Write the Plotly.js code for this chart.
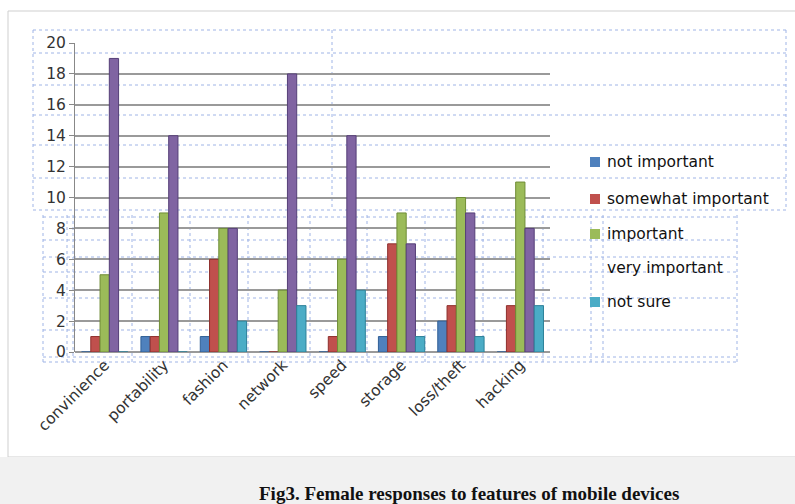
<!DOCTYPE html>
<html>
<head>
<meta charset="utf-8">
<script src="https://cdn.plot.ly/plotly-3.0.1.min.js"></script>
<style>html,body{margin:0;padding:0;background:#fff;}#chart{width:795px;height:504px;}</style>
</head>
<body>
<div id="chart"></div>
<script>
// ---- data ----
const categories = ["convinience","portability","fashion","network","speed","storage","loss/theft","hacking"];
const seriesNames = ["not important","somewhat important","important","very important","not sure"];
const notImportant      = [0, 1, 1, 0, 0, 1, 2, 0];
const somewhatImportant = [1, 1, 6, 0, 1, 7, 3, 3];
const important         = [5, 9, 8, 4, 6, 9, 10, 11];
const veryImportant     = [19, 14, 8, 18, 14, 7, 9, 8];
const notSure           = [0, 0, 2, 3, 4, 1, 1, 3];
const yTicks = [0, 2, 4, 6, 8, 10, 12, 14, 16, 18, 20];
const caption = "Fig3. Female responses to features of mobile devices";

const values = [notImportant, somewhatImportant, important, veryImportant, notSure];
const colors = ["#4f81bd", "#c0504d", "#9bbb59", "#8064a2", "#4bacc6"];
const edge   = ["#2f5f96", "#8e2f2c", "#6f8d36", "#553f78", "#2d8199"];

// ---- layout geometry (pixels) ----
const W = 795, H = 504;
const L = 75, R = 550, T = 43, B = 352;
const px = x => (x - L) / (R - L);
const py = y => (B - y) / (B - T);

const traces = values.map((v, i) => ({
  type: "bar",
  name: seriesNames[i],
  x: categories,
  y: v,
  marker: {color: colors[i], line: {color: edge[i], width: 1}},
  showlegend: false,
  hoverinfo: "x+y+name"
}));

const shapes = [];
const annotations = [];
const blue = "#9fb4e6";
function hline(y, x0, x1) {
  shapes.push({type: "line", xref: "paper", yref: "paper", x0: px(x0), x1: px(x1), y0: py(y), y1: py(y),
    line: {color: blue, width: 1, dash: "dot"}, layer: "below"});
}
function vline(x, y0, y1) {
  shapes.push({type: "line", xref: "paper", yref: "paper", x0: px(x), x1: px(x), y0: py(y0), y1: py(y1),
    line: {color: blue, width: 1, dash: "dot"}, layer: "below"});
}
function rect(x0, y0, x1, y1, fill, lineColor, layer) {
  shapes.push({type: "rect", xref: "paper", yref: "paper", x0: px(x0), x1: px(x1), y0: py(y0), y1: py(y1),
    fillcolor: fill, line: {color: lineColor, width: lineColor ? 1 : 0}, layer: layer || "below"});
}

// outer frame and bottom band
rect(8, 11, 800, 457, "rgba(0,0,0,0)", "#cfcfcf");
rect(-5, 457, 800, 510, "#f1f1f1", null);

// dotted selection boxes (upper)
[30, 53, 85, 115, 145, 178, 210].forEach(y => hline(y, 33, 786));
vline(33, 30, 210); vline(786, 30, 210); vline(332, 30, 210);
// lower box
[217, 240, 257, 272, 298, 330, 357, 362].forEach(y => hline(y, 43, 737));
[43, 67, 73, 132, 190, 248, 310, 367, 425, 483, 543, 591, 603, 737].forEach(x => vline(x, 215, 362));

// legend (drawn manually: no swatch shown for "very important")
const legendY = [162, 199, 234, 268, 302];
const showSwatch = [true, true, true, false, true];
seriesNames.forEach((n, i) => {
  if (showSwatch[i]) rect(590, legendY[i] - 5, 600, legendY[i] + 5, colors[i], null, "above");
  annotations.push({xref: "paper", yref: "paper", x: px(605), y: py(legendY[i]), xanchor: "left", yanchor: "middle",
    text: n, showarrow: false, font: {family: "DejaVu Sans", size: 15.5, color: "#111"}});
});

annotations.push({xref: "paper", yref: "paper", x: px(469), y: py(493), xanchor: "center", yanchor: "middle",
  text: "<b>" + caption + "</b>", showarrow: false,
  font: {family: "Liberation Serif", size: 19, color: "#111"}});

const layout = {
  width: W, height: H,
  margin: {l: L, r: W - R, t: T, b: H - B, pad: 0},
  paper_bgcolor: "#ffffff",
  plot_bgcolor: "rgba(0,0,0,0)",
  barmode: "group",
  bargap: 0.22,
  bargroupgap: 0,
  font: {family: "DejaVu Sans", size: 15, color: "#333"},
  xaxis: {
    type: "category",
    tickangle: -45,
    showgrid: false,
    showline: false,
    ticks: "",
    tickfont: {family: "DejaVu Sans", size: 15.5, color: "#333"},
    zeroline: false
  },
  yaxis: {
    range: [0, 20],
    tickvals: yTicks,
    ticktext: yTicks.map(String),
    showgrid: true,
    gridcolor: "#9a9a9a",
    gridwidth: 2,
    zeroline: true,
    zerolinecolor: "#9a9a9a",
    zerolinewidth: 2,
    showline: true,
    linecolor: "#888",
    linewidth: 1,
    ticks: "outside",
    ticklen: 5,
    tickcolor: "#888",
    tickfont: {family: "DejaVu Sans", size: 15.5, color: "#333"}
  },
  shapes: shapes,
  annotations: annotations
};

Plotly.newPlot("chart", traces, layout, {displayModeBar: false, staticPlot: true});
</script>
</body>
</html>
